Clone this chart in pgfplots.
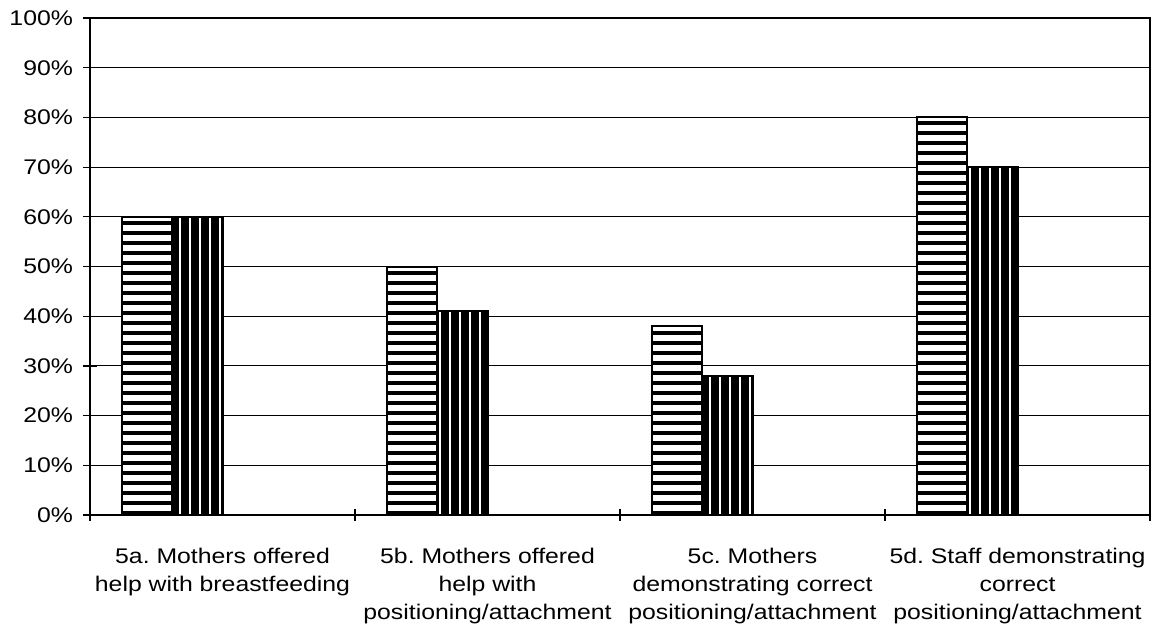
\documentclass[border=0pt]{standalone}
\usepackage{fontspec}
\setmainfont{Liberation Sans}[FakeStretch=1.17]
\usepackage{pgfplots}
\pgfplotsset{compat=1.18}
\usetikzlibrary{patterns.meta}
\frenchspacing

\begin{document}
\begin{tikzpicture}
\begin{axis}[
  name=ax,
  scale only axis,
  width=530pt, height=248.5pt,
  ybar, bar width=0.189,
  xmin=-0.5, xmax=3.5,
  ymin=0, ymax=100,
  ytick={0,10,...,100},
  yticklabel={\pgfmathprintnumber{\tick}\%},
  y tick label style={xshift=-1.5pt},
  xtick={0,1,2,3},
  xticklabels={5a. Mothers offered\\help with breastfeeding,
               5b. Mothers offered\\help with\\positioning/attachment,
               5c. Mothers\\demonstrating correct\\positioning/attachment,
               5d. Staff demonstrating\\correct\\positioning/attachment},
  x tick label style={align=center, yshift=-9.5pt},
  major x tick style={draw=none},
  minor xtick={-0.5,0.5,1.5,2.5,3.5},
  minor x tick style={black, line width=0.6pt},
  minor tick length=6pt,
  tick align=center,
  major tick length=7pt,
  tick style={black, line width=0.6pt},
  xtick pos=bottom, ytick pos=left,
  ymajorgrids,
  major grid style={black, line width=0.5pt},
  axis line style={line width=0.8pt},
  tick label style={font=\fontsize{10.6}{13.9}\selectfont},
  /pgf/number format/assume math mode=true,
]
\addplot[bar shift=-0.2835, draw=black, line width=1pt,
  preaction={fill=white},
  pattern={Lines[angle=0,distance=5pt,line width=2pt]}, pattern color=black]
  coordinates {(0,60) (1,50) (2,38) (3,80)};
\addplot[bar shift=-0.0945, draw=black, line width=1pt,
  preaction={fill=black},
  pattern={Lines[angle=90,distance=5pt,line width=1pt]}, pattern color=white]
  coordinates {(0,60) (1,41) (2,28) (3,70)};
\draw[line width=1.5pt] (rel axis cs:0,0) -- (rel axis cs:0,1);
\end{axis}
\pgfresetboundingbox
\path ([shift={(-45pt,-54pt)}]ax.south west) rectangle ([shift={(2pt,9pt)}]ax.north east);
\end{tikzpicture}
\end{document}
